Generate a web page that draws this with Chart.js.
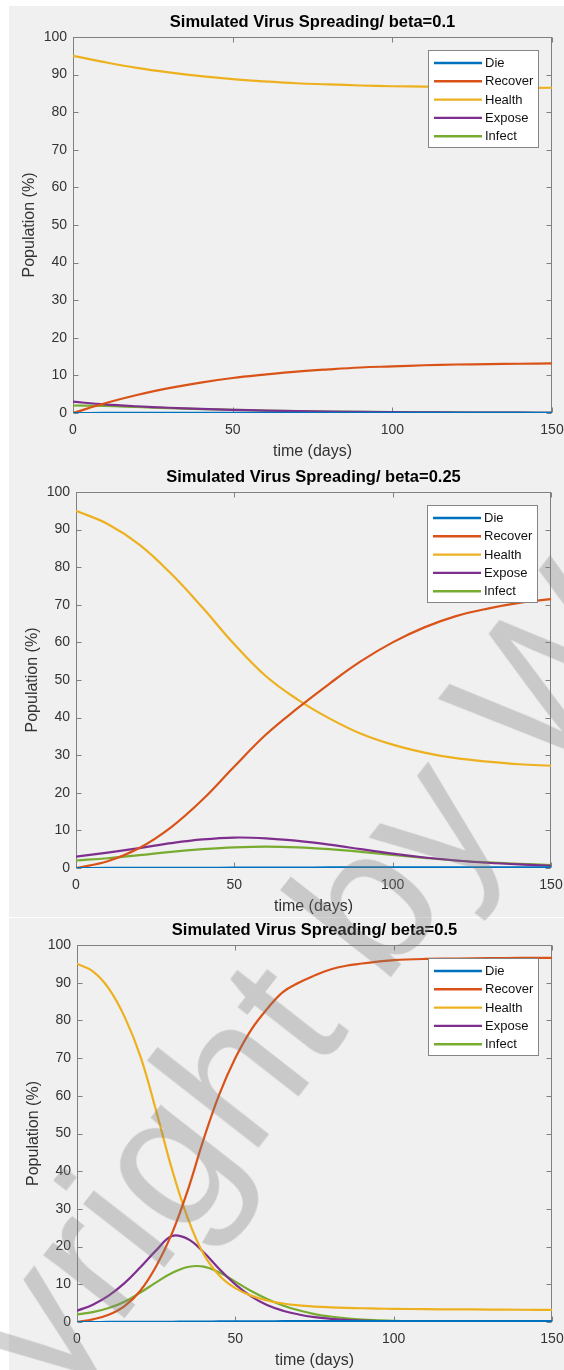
<!DOCTYPE html>
<html>
<head>
<meta charset="utf-8">
<script src="https://cdn.jsdelivr.net/npm/chart.js@4.4.1/dist/chart.umd.min.js"></script>
<style>
  html, body { margin: 0; padding: 0; background: #fff; width: 564px; height: 1370px; overflow: hidden; position: relative; }
  .bg { position: absolute; left: 9px; width: 560px; background: #f0f0f0; }
  canvas { position: absolute; left: 0; }
  #wm {
    position: absolute; left: -294px; top: 1586px;
    font: 195px "Liberation Sans", Arial, sans-serif; line-height: 1;
    white-space: nowrap; color: rgba(120, 120, 120, 0.33);
    transform-origin: 0 0; transform: rotate(-52deg);
    pointer-events: none; z-index: 5;
  }
</style>
</head>
<body>
<div class="bg" style="top:6px;height:911px"></div>
<div class="bg" style="top:918px;height:452px"></div>
<canvas id="c1"></canvas>
<canvas id="c2"></canvas>
<canvas id="c3"></canvas>
<div id="wm">Copyright by W</div>
<script>
const seriesNames = ['Die', 'Recover', 'Health', 'Expose', 'Infect'];
const seriesColors = ['#0072BD', '#D95319', '#EDB120', '#7E2F8E', '#77AC30'];
const xTicks = [0, 50, 100, 150];
const yTicks = [0, 10, 20, 30, 40, 50, 60, 70, 80, 90, 100];

// beta = 0.1
const days1 = [0, 10, 20, 30, 40, 50, 60, 70, 80, 90, 100, 110, 120, 130, 140, 150];
const die1 = [0, 0.01, 0.02, 0.03, 0.04, 0.05, 0.05, 0.06, 0.06, 0.06, 0.07, 0.07, 0.07, 0.07, 0.07, 0.07];
const recover1 = [0, 2.6, 4.8, 6.6, 8.1, 9.3, 10.2, 11.0, 11.6, 12.1, 12.4, 12.7, 12.9, 13.0, 13.1, 13.2];
const health1 = [95, 93.3, 91.8, 90.6, 89.6, 88.8, 88.2, 87.7, 87.4, 87.1, 86.9, 86.8, 86.7, 86.6, 86.5, 86.5];
const expose1 = [3, 2.3, 1.8, 1.4, 1.1, 0.85, 0.65, 0.5, 0.38, 0.3, 0.23, 0.17, 0.13, 0.1, 0.08, 0.06];
const infect1 = [2, 1.9, 1.6, 1.3, 1.05, 0.85, 0.66, 0.51, 0.4, 0.31, 0.24, 0.18, 0.14, 0.11, 0.08, 0.06];

// beta = 0.25
const days2 = [0, 10, 20, 30, 40, 50, 60, 70, 80, 90, 100, 110, 120, 130, 140, 150];
const die2 = [0, 0.01, 0.02, 0.04, 0.06, 0.08, 0.1, 0.12, 0.14, 0.15, 0.16, 0.17, 0.18, 0.18, 0.19, 0.19];
const recover2 = [0, 1.8, 5.3, 10.8, 18.2, 27, 35.5, 42.5, 49, 55, 60, 64, 67, 69, 70.5, 71.5];
const health2 = [95, 91.5, 86, 78.3, 69.2, 59.5, 51, 44.8, 39.8, 35.7, 32.8, 30.7, 29.2, 28.3, 27.6, 27.2];
const expose2 = [3, 4.1, 5.3, 6.6, 7.6, 8.1, 7.9, 7.2, 6.2, 5, 3.8, 2.8, 2.0, 1.4, 0.95, 0.6];
const infect2 = [2, 2.6, 3.4, 4.3, 5.0, 5.5, 5.7, 5.5, 5.0, 4.3, 3.5, 2.7, 2.0, 1.5, 1.1, 0.8];

// beta = 0.5
const days3 = [0, 5, 10, 15, 20, 25, 30, 35, 40, 45, 50, 55, 60, 65, 70, 75, 80, 85, 90, 95, 100, 110, 120, 130, 140, 150];
const die3 = [0, 0, 0.01, 0.02, 0.03, 0.05, 0.07, 0.1, 0.12, 0.15, 0.17, 0.19, 0.2, 0.21, 0.22, 0.23, 0.24, 0.24, 0.25, 0.25, 0.25, 0.26, 0.26, 0.26, 0.26, 0.26];
const recover3 = [0, 0.7, 1.9, 4.2, 8.3, 14.8, 23.5, 35, 48.5, 60.5, 70, 77.5, 83, 87.5, 90, 91.9, 93.5, 94.5, 95.1, 95.6, 96, 96.3, 96.4, 96.5, 96.6, 96.6];
const health3 = [95, 93, 88.5, 81, 70.5, 56, 40.5, 27.5, 18, 12.3, 9, 7, 5.7, 4.9, 4.4, 4.1, 3.9, 3.75, 3.65, 3.55, 3.5, 3.4, 3.35, 3.3, 3.25, 3.2];
const expose3 = [3, 4.6, 7, 10.3, 14.5, 19, 22.8, 22.0, 18.5, 14, 10, 6.8, 4.5, 3, 2, 1.3, 0.85, 0.55, 0.35, 0.22, 0.14, 0.06, 0.02, 0.01, 0, 0];
const infect3 = [2, 2.6, 3.7, 5.4, 7.8, 10.5, 13, 14.6, 14.7, 13.1, 10.7, 8.2, 6.1, 4.4, 3.1, 2.1, 1.45, 1, 0.65, 0.45, 0.3, 0.13, 0.06, 0.03, 0.01, 0.01];

const FONT = '"Liberation Sans", Arial, Helvetica, sans-serif';

// box around the axes with inward ticks on all four sides
const framePlugin = {
  id: 'frame',
  beforeDatasetsDraw(chart) {
    const { ctx, chartArea: a, scales: { x, y } } = chart;
    ctx.save();
    ctx.strokeStyle = '#808080';
    ctx.lineWidth = 1;
    const l = Math.round(a.left) + 0.5, r = Math.round(a.right) - 0.5;
    const t = Math.round(a.top) + 0.5, b = Math.round(a.bottom) - 0.5;
    ctx.strokeRect(l, t, r - l, b - t);
    ctx.beginPath();
    yTicks.forEach(v => {
      const py = Math.round(y.getPixelForValue(v)) + 0.5;
      ctx.moveTo(l, py); ctx.lineTo(l + 5, py);
      ctx.moveTo(r, py); ctx.lineTo(r - 5, py);
    });
    xTicks.forEach(v => {
      const px = Math.round(x.getPixelForValue(v)) + 0.5;
      ctx.moveTo(px, b); ctx.lineTo(px, b - 5);
      ctx.moveTo(px, t); ctx.lineTo(px, t + 5);
    });
    ctx.stroke();
    ctx.restore();
  }
};

// MATLAB-like legend box, top right inside the axes
const legendPlugin = {
  id: 'boxLegend',
  afterDatasetsDraw(chart) {
    const { ctx, chartArea: a } = chart;
    const w = 110, h = 97;
    const bx = Math.round(a.right - 14 - w), by = Math.round(a.top + 13);
    ctx.save();
    ctx.fillStyle = '#fff';
    ctx.fillRect(bx, by, w, h);
    ctx.strokeStyle = '#858585';
    ctx.lineWidth = 1;
    ctx.strokeRect(bx + 0.5, by + 0.5, w, h);
    ctx.font = '13px ' + FONT;
    ctx.textBaseline = 'middle';
    chart.data.datasets.forEach((ds, i) => {
      const yy = by + 13 + i * 18.3;
      ctx.strokeStyle = ds.borderColor;
      ctx.lineWidth = 2.4;
      ctx.beginPath();
      ctx.moveTo(bx + 6, yy); ctx.lineTo(bx + 54, yy);
      ctx.stroke();
      ctx.fillStyle = '#111';
      ctx.fillText(ds.label, bx + 57, yy + 0.5);
    });
    ctx.restore();
  }
};

function makePanel(p) {
  const canvas = document.getElementById(p.id);
  canvas.width = 600;
  canvas.height = (p.bottom - p.top) + 82;
  canvas.style.top = (p.top - 29) + 'px';

  const datasets = seriesNames.map((name, i) => ({
    label: name,
    data: p.days.map((d, k) => ({ x: d, y: p.values[i][k] })),
    borderColor: seriesColors[i],
    backgroundColor: seriesColors[i],
    borderWidth: 2.2,
    pointRadius: 0,
    fill: false,
    tension: 0.4
  }));

  new Chart(canvas, {
    type: 'line',
    data: { datasets },
    options: {
      responsive: false,
      animation: false,
      events: [],
      layout: { padding: { left: 0, right: 600 - p.right, top: 0, bottom: 0 } },
      plugins: {
        legend: { display: false },
        tooltip: { enabled: false },
        title: {
          display: true,
          fullSize: false,
          text: 'Simulated Virus Spreading/ beta=' + p.beta,
          color: '#000',
          font: { family: FONT, size: 16.5, weight: 'bold', lineHeight: 1.2 },
          padding: { top: 4.1, bottom: 5.1 }
        }
      },
      scales: {
        x: {
          type: 'linear',
          min: 0, max: 150,
          afterBuildTicks: s => { s.ticks = xTicks.map(v => ({ value: v })); },
          grid: { display: false, drawTicks: false },
          border: { display: false },
          ticks: { padding: 8.6, color: '#333', font: { family: FONT, size: 14 }, maxRotation: 0, autoSkip: false },
          title: { display: true, text: 'time (days)', color: '#333', font: { family: FONT, size: 16, lineHeight: 1.2 }, padding: { top: 0, bottom: 4.4 } },
          afterFit: s => { s.height = 53; }
        },
        y: {
          min: 0, max: 100,
          afterBuildTicks: s => { s.ticks = yTicks.map(v => ({ value: v })); },
          grid: { display: false, drawTicks: false },
          border: { display: false },
          ticks: { padding: 6, color: '#333', font: { family: FONT, size: 14 }, autoSkip: false },
          title: { display: true, text: 'Population (%)', color: '#333', font: { family: FONT, size: 16, lineHeight: 1.2 }, padding: { top: p.left - 43 - 9.6, bottom: 0 } },
          afterFit: s => { s.width = p.left; }
        }
      }
    },
    plugins: [framePlugin, legendPlugin]
  });
}

makePanel({ id: 'c1', beta: '0.1', days: days1, values: [die1, recover1, health1, expose1, infect1], left: 73, right: 552, top: 37, bottom: 413 });
makePanel({ id: 'c2', beta: '0.25', days: days2, values: [die2, recover2, health2, expose2, infect2], left: 76, right: 551, top: 492, bottom: 868 });
makePanel({ id: 'c3', beta: '0.5', days: days3, values: [die3, recover3, health3, expose3, infect3], left: 77, right: 552, top: 945, bottom: 1322 });
</script>
</body>
</html>
